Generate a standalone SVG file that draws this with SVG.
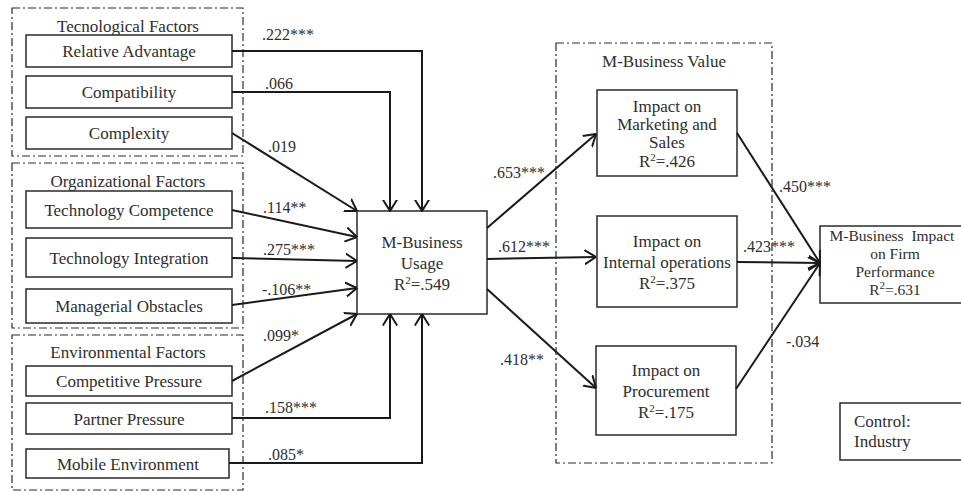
<svg xmlns="http://www.w3.org/2000/svg" width="961" height="491" viewBox="0 0 961 491" font-family="Liberation Serif, Times New Roman, serif">
<style>
text{font-size:17px;fill:#2e2e2e}
.c{text-anchor:middle}
.s{font-size:11px}
.f{font-size:15.5px}
.box{fill:#fff;stroke:#2a2a2a;stroke-width:1.5}
.grp{fill:none;stroke:#2a2a2a;stroke-width:1.2;stroke-dasharray:8 3 2 3}
.ln{fill:none;stroke:#1a1a1a;stroke-width:2}
.lab{font-size:16px}
</style>
<defs>
<marker id="ah" viewBox="0 0 12 16" refX="11.5" refY="8" markerWidth="12" markerHeight="16" markerUnits="userSpaceOnUse" orient="auto">
<path d="M0,0.8 L11.5,8 L0,15.2" fill="none" stroke="#1a1a1a" stroke-width="2"/>
</marker>
</defs>

<g id="groups">
<rect class="grp" x="12" y="8" width="231" height="148"/>
<text class="c" x="128" y="32">Tecnological Factors</text>
<rect class="grp" x="12" y="163" width="231" height="165"/>
<text class="c" x="128" y="187">Organizational Factors</text>
<rect class="grp" x="12" y="335" width="231" height="155"/>
<text class="c" x="128" y="358">Environmental Factors</text>
<rect class="grp" x="556" y="43" width="216" height="420"/>
<text class="c" x="664" y="67">M-Business Value</text>
</g>

<g id="relative-advantage"><rect class="box" x="26" y="35" width="206" height="32"/><text class="c" x="129" y="57">Relative Advantage</text></g>
<g id="compatibility"><rect class="box" x="26" y="76" width="206" height="32"/><text class="c" x="129" y="98">Compatibility</text></g>
<g id="complexity"><rect class="box" x="26" y="117" width="206" height="32"/><text class="c" x="129" y="139">Complexity</text></g>
<g id="technology-competence"><rect class="box" x="26" y="191" width="206" height="37"/><text class="c" x="129" y="216">Technology Competence</text></g>
<g id="technology-integration"><rect class="box" x="26" y="238" width="206" height="39"/><text class="c" x="129" y="264">Technology Integration</text></g>
<g id="managerial-obstacles"><rect class="box" x="26" y="289" width="206" height="34"/><text class="c" x="129" y="312">Managerial Obstacles</text></g>
<g id="competitive-pressure"><rect class="box" x="26" y="366" width="206" height="30"/><text class="c" x="129" y="387">Competitive Pressure</text></g>
<g id="partner-pressure"><rect class="box" x="26" y="403" width="206" height="31"/><text class="c" x="129" y="425">Partner Pressure</text></g>
<g id="mobile-environment"><rect class="box" x="26" y="449" width="203" height="29"/><text class="c" x="128" y="470">Mobile Environment</text></g>

<g id="m-business-usage"><rect class="box" x="357" y="211" width="130" height="103"/>
<text class="c" x="422" y="248">M-Business</text>
<text class="c" x="422" y="269">Usage</text>
<text class="c" x="422" y="290">R<tspan class="s" dy="-6">2</tspan><tspan dy="6">=.549</tspan></text></g>

<g id="impact-marketing"><rect class="box" x="597" y="90" width="140" height="86"/>
<text class="c" x="667" y="112">Impact on</text>
<text class="c" x="667" y="130">Marketing and</text>
<text class="c" x="667" y="148">Sales</text>
<text class="c" x="667" y="167">R<tspan class="s" dy="-6">2</tspan><tspan dy="6">=.426</tspan></text></g>

<g id="impact-internal"><rect class="box" x="597" y="216" width="140" height="91"/>
<text class="c" x="667" y="247">Impact on</text>
<text class="c" x="667" y="268">Internal operations</text>
<text class="c" x="667" y="289">R<tspan class="s" dy="-6">2</tspan><tspan dy="6">=.375</tspan></text></g>

<g id="impact-procurement"><rect class="box" x="596" y="346" width="140" height="89"/>
<text class="c" x="666" y="376">Impact on</text>
<text class="c" x="666" y="397">Procurement</text>
<text class="c" x="666" y="418">R<tspan class="s" dy="-6">2</tspan><tspan dy="6">=.175</tspan></text></g>

<g id="firm-performance"><rect class="box" x="820" y="226" width="150" height="77"/>
<text class="c f" x="892" y="241" xml:space="preserve">M-Business  Impact</text>
<text class="c f" x="895" y="259">on Firm</text>
<text class="c f" x="895" y="277">Performance</text>
<text class="c f" x="895" y="295">R<tspan class="s" dy="-6">2</tspan><tspan dy="6">=.631</tspan></text></g>

<g id="control"><rect class="box" x="840" y="403" width="125" height="57"/>
<text x="854" y="427">Control:</text>
<text x="854" y="447">Industry</text></g>

<g id="connectors">
<path class="ln" d="M232,51 H422 V211" marker-end="url(#ah)"/>
<path class="ln" d="M232,92 H390 V211" marker-end="url(#ah)"/>
<path class="ln" d="M232,133 L357,211" marker-end="url(#ah)"/>
<path class="ln" d="M232,210 L357,237" marker-end="url(#ah)"/>
<path class="ln" d="M232,258 L357,261" marker-end="url(#ah)"/>
<path class="ln" d="M232,305 L357,288" marker-end="url(#ah)"/>
<path class="ln" d="M232,381 L357,314" marker-end="url(#ah)"/>
<path class="ln" d="M232,418 H390 V314" marker-end="url(#ah)"/>
<path class="ln" d="M229,463 H422 V314" marker-end="url(#ah)"/>
<path class="ln" d="M487,228 L596,134" marker-end="url(#ah)"/>
<path class="ln" d="M487,259 L596,257" marker-end="url(#ah)"/>
<path class="ln" d="M487,289 L596,388" marker-end="url(#ah)"/>
<path class="ln" d="M737,133 L820,263" stroke-width="1.5" marker-end="url(#ah)"/>
<path class="ln" d="M737,262 L820,263" marker-end="url(#ah)"/>
<path class="ln" d="M736,389 L820,263" stroke-width="1.5" marker-end="url(#ah)"/>
</g>

<g id="labels">
<text class="lab" x="262" y="40">.222***</text>
<text class="lab" x="265" y="89">.066</text>
<text class="lab" x="268" y="152">.019</text>
<text class="lab" x="263" y="213">.114**</text>
<text class="lab" x="263" y="255">.275***</text>
<text class="lab" x="262" y="295">-.106**</text>
<text class="lab" x="263" y="341">.099*</text>
<text class="lab" x="265" y="413">.158***</text>
<text class="lab" x="268" y="460">.085*</text>
<text class="lab" x="493" y="178">.653***</text>
<text class="lab" x="498" y="252">.612***</text>
<text class="lab" x="500" y="365">.418**</text>
<text class="lab" x="779" y="192">.450***</text>
<text class="lab" x="743" y="252">.423***</text>
<text class="lab" x="786" y="347">-.034</text>
</g>
</svg>
